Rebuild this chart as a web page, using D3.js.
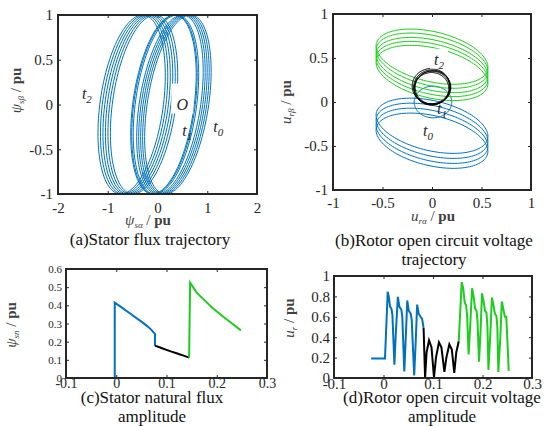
<!DOCTYPE html>
<html><head><meta charset="utf-8">
<script src="https://cdn.jsdelivr.net/npm/d3@7"></script>
<style>
body{margin:0;background:#fff}
svg{display:block}
svg text{font-family:"Liberation Serif","Times New Roman",Times,"DejaVu Serif",serif !important}
</style>
</head><body><svg id="c" width="544" height="426"></svg>
<script>
// ---------------- DATA ----------------
// (a) stator flux trajectory: one ellipse per electrical cycle
const aTicksX = [-2, -1, 0, 1, 2];
const aTicksY = [-1, -0.5, 0, 0.5, 1];
const aCenterX = [0.41, 0.37, 0.33, 0.29, 0.25, 0.17, 0.14, 0.12, -0.52, -0.47, -0.42, -0.37, -0.32, -0.27];
const aHalfX   = [0.62, 0.62, 0.62, 0.62, 0.62, 0.62, 0.62, 0.62, 0.64, 0.64, 0.64, 0.64, 0.64, 0.64];
const aShearX  = [0.25, 0.25, 0.25, 0.25, 0.25, 0.22, 0.22, 0.22, 0.22, 0.22, 0.22, 0.22, 0.22, 0.22];
const aLabels  = [["t", "2", -1.42, 0.12], ["O", "", 0.5, 0.0], ["t", "1", 0.6, -0.3], ["t", "0", 1.22, -0.25]];

// (b) rotor open circuit voltage trajectory
const bTicksX = [-1, -0.5, 0, 0.5, 1];
const bTicksY = [-1, -0.5, 0, 0.5, 1];
const bBlueCenterY  = [-0.27, -0.327, -0.384, -0.44];
const bGreenCenterY = [0.515, 0.47, 0.42, 0.375, 0.33];
const bLoopHalfX = 0.565, bLoopTiltY = -0.12, bLoopHalfY = 0.29;
const bPreCircle = [0.01, 0.0, 0.19, 0.18];          // cx, cy, rx, ry
const bBlackCx = [-0.01, 0.0, 0.01, 0.0, -0.005];
const bBlackCy = [0.18, 0.17, 0.165, 0.16, 0.15];
const bBlackRx = [0.19, 0.185, 0.18, 0.18, 0.175];
const bBlackRy = [0.2, 0.195, 0.19, 0.19, 0.185];
const bLabels  = [["t", "2", 0.07, 0.48], ["t", "1", 0.1, -0.08], ["t", "0", -0.04, -0.33]];

// (c) stator natural flux amplitude
const cTicksX = [-0.1, 0, 0.1, 0.2, 0.3];
const cTicksY = [0, 0.1, 0.2, 0.3, 0.4, 0.5, 0.6];
const cBlue  = [[-0.025,0],[-0.003,0],[-0.003,0.415],[0.01,0.39],[0.02,0.37],[0.035,0.34],[0.05,0.31],[0.061,0.287],[0.07,0.265],[0.077,0.243],[0.077,0.178]];
const cBlack = [[0.077,0.178],[0.09,0.165],[0.1,0.155],[0.11,0.145],[0.12,0.136],[0.13,0.127],[0.145,0.112]];
const cGreen = [[0.145,0.112],[0.147,0.525],[0.16,0.47],[0.175,0.43],[0.19,0.39],[0.205,0.355],[0.22,0.322],[0.235,0.29],[0.248,0.262]];

// (d) rotor open circuit voltage amplitude
const dTicksX = [-0.1, 0, 0.1, 0.2, 0.3];
const dTicksY = [0, 0.2, 0.4, 0.6, 0.8, 1];
const dBlue  = [[-0.025,0.19],[0.003,0.19],[0.0085,0.845],[0.011,0.79],[0.013,0.7],[0.016,0.68],[0.018,0.62],[0.022,0.13],[0.025,0.45],[0.029,0.795],[0.032,0.7],[0.036,0.67],[0.038,0.6],[0.042,0.065],[0.045,0.4],[0.048,0.76],[0.051,0.66],[0.055,0.63],[0.057,0.57],[0.062,0.025],[0.065,0.35],[0.068,0.72],[0.071,0.63],[0.075,0.6],[0.078,0.58],[0.081,0.49]];
const dBlack = [[0.081,0.49],[0.084,0.0],[0.087,0.25],[0.092,0.37],[0.097,0.3],[0.102,0.005],[0.106,0.2],[0.112,0.35],[0.117,0.3],[0.123,0.06],[0.127,0.2],[0.133,0.33],[0.138,0.28],[0.143,0.05],[0.147,0.25],[0.152,0.36]];
const dGreen = [[0.152,0.36],[0.158,0.94],[0.161,0.88],[0.164,0.74],[0.167,0.71],[0.169,0.6],[0.172,0.23],[0.175,0.5],[0.179,0.88],[0.182,0.8],[0.185,0.68],[0.188,0.66],[0.19,0.55],[0.193,0.16],[0.196,0.45],[0.199,0.83],[0.202,0.76],[0.205,0.66],[0.208,0.64],[0.21,0.5],[0.212,0.08],[0.216,0.45],[0.219,0.79],[0.222,0.72],[0.225,0.63],[0.228,0.61],[0.23,0.5],[0.232,0.06],[0.236,0.4],[0.239,0.75],[0.242,0.68],[0.245,0.6],[0.248,0.6],[0.25,0.4],[0.253,0.07]];

// ---------------- DRAWING ----------------
const BLUE = "#0072BD", GREEN = "#1ECC1E", BLACK = "#000";
const SERIF = "Liberation Serif, Times New Roman, Times, DejaVu Serif, serif";
const svg = d3.select("#c");
const TH = d3.range(0, 361, 3).map(d => d * Math.PI / 180);

function fmt(v){ return Math.abs(v) < 1e-9 ? "0" : String(+v.toFixed(2)); }

function makeAxes(box, xd, yd, xt, yt, xFs, yFs){
  const x = d3.scaleLinear().domain(xd).range([box.x0, box.x1]);
  const y = d3.scaleLinear().domain(yd).range([box.y1, box.y0]);
  const g = svg.append("g");
  const tl = 3;
  g.append("g").attr("transform", `translate(0,${box.y1})`)
    .call(d3.axisBottom(x).tickValues(xt).tickSizeInner(-tl).tickSizeOuter(0).tickPadding(box.xPad).tickFormat(fmt))
    .call(s => { s.select(".domain").remove(); s.attr("font-family", SERIF).attr("font-size", xFs); s.selectAll("text").attr("fill", "#262626"); });
  g.append("g").attr("transform", `translate(0,${box.y0})`)
    .call(d3.axisTop(x).tickValues(xt).tickSizeInner(-tl).tickSizeOuter(0).tickFormat(""))
    .call(s => s.select(".domain").remove());
  g.append("g").attr("transform", `translate(${box.x0},0)`)
    .call(d3.axisLeft(y).tickValues(yt).tickSizeInner(-tl).tickSizeOuter(0).tickPadding(box.yPad).tickFormat(fmt))
    .call(s => { s.select(".domain").remove(); s.attr("font-family", SERIF).attr("font-size", yFs); s.selectAll("text").attr("fill", "#262626"); });
  g.append("g").attr("transform", `translate(${box.x1},0)`)
    .call(d3.axisRight(y).tickValues(yt).tickSizeInner(-tl).tickSizeOuter(0).tickFormat(""))
    .call(s => s.select(".domain").remove());
  g.selectAll(".tick line").attr("stroke", "#262626").attr("stroke-width", 1);
  return {x, y, g};
}
function frame(box){
  svg.append("rect").attr("x", box.x0).attr("y", box.y0)
    .attr("width", box.x1 - box.x0).attr("height", box.y1 - box.y0)
    .attr("fill", "none").attr("stroke", "#262626").attr("stroke-width", 2);
}
function clip(id, box){
  svg.append("clipPath").attr("id", id).append("rect")
    .attr("x", box.x0).attr("y", box.y0).attr("width", box.x1 - box.x0).attr("height", box.y1 - box.y0);
}
function ellipsePts(cx, cy, ax, bx, ay, by){
  return TH.map(t => [cx + ax * Math.cos(t) + bx * Math.sin(t), cy + ay * Math.cos(t) + by * Math.sin(t)]);
}
function mathLabel(x, y, rot, sym, sub){
  const t = svg.append("text").attr("transform", `translate(${x},${y}) rotate(${rot})`)
    .attr("font-family", SERIF).attr("text-anchor", "middle").attr("font-size", 15).attr("fill", "#404040");
  t.append("tspan").attr("font-style", "italic").text(sym);
  t.append("tspan").attr("font-style", "italic").attr("font-size", 9).attr("dy", 3).text(sub);
  t.append("tspan").attr("dy", -3).text(" / ");
  t.append("tspan").attr("font-weight", "bold").text("pu");
}
function italicLabel(x, y, main, sub, bg){
  if (bg) svg.append("rect").attr("x", x - bg[0] / 2).attr("y", y - bg[1] + 4).attr("width", bg[0]).attr("height", bg[1]).attr("fill", "#fff");
  const t = svg.append("text").attr("x", x).attr("y", y).attr("font-size", 16).attr("font-family", SERIF)
    .attr("font-style", "italic").attr("text-anchor", "middle").attr("fill", "#262626");
  t.append("tspan").text(main);
  if (sub) t.append("tspan").attr("font-size", 11).attr("dy", 4).text(sub);
}
function caption(x, y, lines){
  lines.forEach((s, i) => svg.append("text").attr("x", x).attr("y", y + i * 19).attr("font-family", SERIF)
    .attr("text-anchor", "middle").attr("font-size", 17).attr("fill", "#111").text(s));
}

// ---- (a)
const A = {x0: 58, x1: 257, y0: 15, y1: 194, xPad: 8, yPad: 5};
const ax = makeAxes(A, [-2, 2], [-1, 1], aTicksX, aTicksY, 15, 15);
clip("ca", A);
const lineA = d3.line().x(d => ax.x(d[0])).y(d => ax.y(d[1]));
const gA = svg.append("g").attr("clip-path", "url(#ca)");
aCenterX.forEach((c, i) => gA.append("path").attr("d", lineA(ellipsePts(c, 0, aHalfX[i], aShearX[i], 0, 1)))
  .attr("fill", "none").attr("stroke", BLUE).attr("stroke-width", 1));
aLabels.forEach(l => italicLabel(ax.x(l[2]), ax.y(l[3]) + 5, l[0], l[1], l[0] === "O" ? [22, 30] : null));
frame(A);
mathLabel(21, ax.y(0) - 14, -90, "ψ", "sβ");
mathLabel(148, 225, 0, "ψ", "sα");
caption(150, 245, ["(a)Stator flux trajectory"]);

// ---- (b)
const B = {x0: 333, x1: 531, y0: 14, y1: 190, xPad: 7, yPad: 5};
const bx = makeAxes(B, [-1, 1], [-1, 1], bTicksX, bTicksY, 15, 15);
clip("cb", B);
const lineB = d3.line().x(d => bx.x(d[0])).y(d => bx.y(d[1]));
const gB = svg.append("g").attr("clip-path", "url(#cb)");
bBlueCenterY.forEach(cy => gB.append("path").attr("d", lineB(ellipsePts(0, cy, bLoopHalfX, 0, bLoopTiltY, bLoopHalfY)))
  .attr("fill", "none").attr("stroke", BLUE).attr("stroke-width", 1));
gB.append("path").attr("d", lineB(ellipsePts(bPreCircle[0], bPreCircle[1], bPreCircle[2], 0, 0, bPreCircle[3])))
  .attr("fill", "none").attr("stroke", BLUE).attr("stroke-width", 1);
bGreenCenterY.forEach(cy => gB.append("path").attr("d", lineB(ellipsePts(0, cy, bLoopHalfX, 0, bLoopTiltY, bLoopHalfY)))
  .attr("fill", "none").attr("stroke", GREEN).attr("stroke-width", 1));
bBlackCx.forEach((c, i) => gB.append("path").attr("d", lineB(ellipsePts(c, bBlackCy[i], bBlackRx[i], 0, 0, bBlackRy[i])))
  .attr("fill", "none").attr("stroke", BLACK).attr("stroke-width", 1));
bLabels.forEach((l, i) => italicLabel(bx.x(l[2]), bx.y(l[3]) + 5, l[0], l[1], i === 0 ? [18, 20] : null));
frame(B);
mathLabel(291, bx.y(0), -90, "u", "rβ");
mathLabel(433, 221, 0, "u", "rα");
caption(434, 246, ["(b)Rotor open circuit voltage", "trajectory"]);

// ---- (c)
const C = {x0: 66, x1: 267, y0: 269, y1: 378, xPad: 0, yPad: 4};
const cx = makeAxes(C, [-0.1, 0.3], [0, 0.6], cTicksX, cTicksY, 14, 11);
const lineC = d3.line().x(d => cx.x(d[0])).y(d => cx.y(d[1]));
[[cBlue, BLUE], [cBlack, BLACK], [cGreen, GREEN]].forEach(([d, col]) =>
  svg.append("path").attr("d", lineC(d)).attr("fill", "none").attr("stroke", col).attr("stroke-width", 2));
frame(C);
mathLabel(16, 325, -90, "ψ", "sn");
caption(152, 403, ["(c)Stator  natural flux", "amplitude"]);

// ---- (d)
const D = {x0: 334, x1: 532, y0: 276, y1: 378, xPad: 0, yPad: 4};
const dx = makeAxes(D, [-0.1, 0.3], [0, 1], dTicksX, dTicksY, 15, 15);
const lineD = d3.line().x(d => dx.x(d[0])).y(d => dx.y(d[1]));
[[dBlue, BLUE], [dBlack, BLACK], [dGreen, GREEN]].forEach(([d, col]) =>
  svg.append("path").attr("d", lineD(d)).attr("fill", "none").attr("stroke", col).attr("stroke-width", 2));
frame(D);
mathLabel(294, 318, -90, "u", "r");
caption(442, 403, ["(d)Rotor open circuit voltage", "amplitude"]);
</script>
</body></html>
